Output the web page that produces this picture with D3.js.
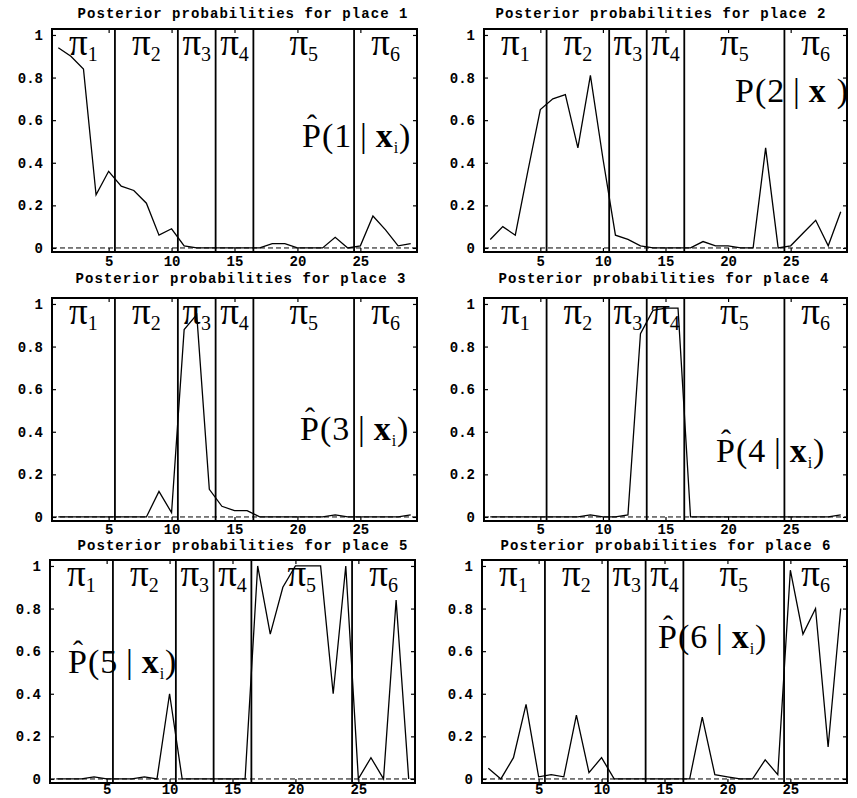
<!DOCTYPE html>
<html>
<head>
<meta charset="utf-8">
<script src="https://cdn.jsdelivr.net/npm/d3@7"></script>
<style>
  body { margin: 0; background: #fff; }
  svg { display: block; }
</style>
</head>
<body>
<div id="chart"></div>
<script>
// sample index along the x axis, and where the classes pi_1..pi_6 split
const samples = [1, 2, 3, 4, 5, 6, 7, 8, 9, 10, 11, 12, 13, 14, 15, 16, 17, 18, 19, 20, 21, 22, 23, 24, 25, 26, 27, 28, 29];
const classBounds = [5.5, 10.5, 13.5, 16.5, 24.5];
const classNames = ["1", "2", "3", "4", "5", "6"];
const xTicks = [5, 10, 15, 20, 25];
const yTicks = [0, 0.2, 0.4, 0.6, 0.8, 1];

// posterior probability of each place
const place1 = [0.94, 0.90, 0.84, 0.25, 0.36, 0.29, 0.27, 0.21, 0.06, 0.09, 0.01, 0, 0, 0, 0, 0, 0, 0.02, 0.02, 0, 0, 0, 0.05, 0, 0.01, 0.15, 0.085, 0.01, 0.02];
const place2 = [0.04, 0.10, 0.06, 0.36, 0.65, 0.70, 0.72, 0.47, 0.81, 0.42, 0.06, 0.04, 0.01, 0, 0, 0, 0, 0.03, 0.01, 0.01, 0, 0, 0.47, 0, 0.01, 0.07, 0.13, 0.01, 0.17];
const place3 = [0, 0, 0, 0, 0, 0, 0, 0, 0.12, 0.02, 0.88, 0.95, 0.13, 0.05, 0.03, 0.03, 0, 0, 0, 0, 0, 0, 0.01, 0, 0, 0, 0, 0, 0.01];
const place4 = [0, 0, 0, 0, 0, 0, 0, 0, 0.01, 0, 0, 0.01, 0.86, 0.97, 0.98, 0.98, 0, 0, 0, 0, 0, 0, 0, 0, 0, 0, 0, 0, 0.01];
const place5 = [0, 0, 0, 0.01, 0, 0, 0, 0.01, 0, 0.40, 0, 0, 0, 0, 0, 0, 1.0, 0.68, 0.90, 1.0, 1.0, 1.0, 0.40, 1.0, 0, 0.10, 0, 0.84, 0];
const place6 = [0.05, 0, 0.10, 0.35, 0.01, 0.02, 0.01, 0.30, 0.03, 0.10, 0, 0, 0, 0, 0, 0, 0, 0.29, 0.02, 0.01, 0, 0, 0.09, 0.02, 0.98, 0.68, 0.80, 0.15, 0.80];

const titles = [
  "Posterior probabilities for place 1",
  "Posterior probabilities for place 2",
  "Posterior probabilities for place 3",
  "Posterior probabilities for place 4",
  "Posterior probabilities for place 5",
  "Posterior probabilities for place 6"
];

// panel boxes and where the P(k|x) note sits inside each one
const plotH = 223;
const panels = [
  { series: place1, left: 52, right: 417, top: 29, titleY: 18, titleDx: 8, xPad: 4, note: { dx: 250, dy: 118, hat: true } },
  { series: place2, left: 484, right: 847, top: 29, titleY: 18, titleDx: -5, xPad: 4, note: { dx: 251, dy: 73, hat: false } },
  { series: place3, left: 52, right: 417, top: 298, titleY: 283, titleDx: 6, xPad: 3, note: { dx: 248, dy: 142, hat: true } },
  { series: place4, left: 484, right: 847, top: 298, titleY: 283, titleDx: -2, xPad: 3, note: { dx: 232, dy: 164, hat: true } },
  { series: place5, left: 50, right: 415, top: 560, titleY: 550, titleDx: 10, xPad: 1, note: { dx: 18, dy: 113, hat: true } },
  { series: place6, left: 482, right: 847, top: 560, titleY: 550, titleDx: 1, xPad: 1, note: { dx: 176, dy: 88, hat: true } }
];

const svg = d3.select("#chart").append("svg")
  .attr("width", 857)
  .attr("height", 798);

const mono = "'Liberation Mono', 'DejaVu Sans Mono', monospace";
const serif = "'Liberation Serif', 'DejaVu Serif', serif";

panels.forEach((p, k) => {
  const x = d3.scaleLinear().domain([0.5, 29.5]).range([p.left, p.right]);
  const y = d3.scaleLinear().domain([-0.019, 1.028]).range([p.top + plotH, p.top]);
  const g = svg.append("g");

  // title
  g.append("text")
    .attr("x", (p.left + p.right) / 2 + p.titleDx)
    .attr("y", p.titleY)
    .attr("text-anchor", "middle")
    .attr("textLength", 330)
    .attr("lengthAdjust", "spacing")
    .style("font-family", mono)
    .style("font-weight", "bold")
    .style("font-size", "14px")
    .text(titles[k]);

  // dashed zero line
  g.append("line")
    .attr("x1", x(0.5)).attr("x2", x(29.5))
    .attr("y1", y(0)).attr("y2", y(0))
    .attr("stroke", "#000")
    .attr("stroke-width", 1)
    .attr("stroke-dasharray", "5,3");

  // class boundaries
  g.selectAll(".bound")
    .data(classBounds)
    .join("line")
    .attr("class", "bound")
    .attr("x1", d => x(d)).attr("x2", d => x(d))
    .attr("y1", p.top).attr("y2", p.top + plotH)
    .attr("stroke", "#000")
    .attr("stroke-width", 1.8);

  // pi labels, centred in each class
  const edges = [0.5, ...classBounds, 29.5];
  const pis = g.selectAll(".pi")
    .data(classNames)
    .join("text")
    .attr("class", "pi")
    .attr("x", (d, i) => x((edges[i] + edges[i + 1]) / 2))
    .attr("y", p.top + 26)
    .attr("text-anchor", "middle")
    .style("font-family", serif);
  pis.append("tspan").style("font-size", "37px").text("\u03c0");
  pis.append("tspan").style("font-size", "20px").attr("dy", 6).text(d => d);

  // posterior curve
  const line = d3.line()
    .x((d, i) => x(samples[i]))
    .y(d => y(d));
  g.append("path")
    .datum(p.series)
    .attr("d", line)
    .attr("fill", "none")
    .attr("stroke", "#000")
    .attr("stroke-width", 1.3);

  // P(k|x_i) note
  const nx = p.left + p.note.dx;
  const ny = p.top + p.note.dy;
  const note = g.append("text")
    .attr("x", nx)
    .attr("y", ny)
    .style("font-family", serif)
    .style("font-size", "34px")
    .style("letter-spacing", "1px");
  note.append("tspan").text("P(" + (k + 1) + "\u2009|\u2009");
  note.append("tspan").style("font-weight", "bold").text("x");
  note.append("tspan").style("font-size", "16px").attr("dy", 6).text(p.note.hat ? "i" : "\u00a0\u00a0");
  note.append("tspan").attr("dy", -6).text(")");
  if (p.note.hat) {
    g.append("text")
      .attr("x", nx + 10)
      .attr("y", ny - 12)
      .attr("text-anchor", "middle")
      .style("font-family", serif)
      .style("font-size", "30px")
      .text("\u02c6");
  }

  // axes: ticks point inward, labels only left and bottom
  const fmt = d3.format("~g");
  const left = g.append("g")
    .attr("transform", `translate(${p.left},0)`)
    .call(d3.axisLeft(y).tickValues(yTicks).tickSize(-4).tickPadding(9).tickFormat(fmt));
  const bottom = g.append("g")
    .attr("transform", `translate(0,${p.top + plotH})`)
    .call(d3.axisBottom(x).tickValues(xTicks).tickSize(-4).tickPadding(p.xPad));
  g.append("g")
    .attr("transform", `translate(${p.right},0)`)
    .call(d3.axisRight(y).tickValues(yTicks).tickSize(-4).tickFormat(""));
  g.append("g")
    .attr("transform", `translate(0,${p.top})`)
    .call(d3.axisTop(x).tickValues(xTicks).tickSize(-4).tickFormat(""));
  g.selectAll(".domain").remove();
  g.selectAll(".tick line").attr("stroke-width", 1.2);
  [left, bottom].forEach(a => a.selectAll("text")
    .style("font-family", mono)
    .style("font-weight", "bold")
    .style("font-size", "14px")
    .attr("fill", "#000"));

  // frame
  g.append("rect")
    .attr("x", p.left).attr("y", p.top)
    .attr("width", p.right - p.left).attr("height", plotH)
    .attr("fill", "none")
    .attr("stroke", "#000")
    .attr("stroke-width", 2);
});
</script>
</body>
</html>
